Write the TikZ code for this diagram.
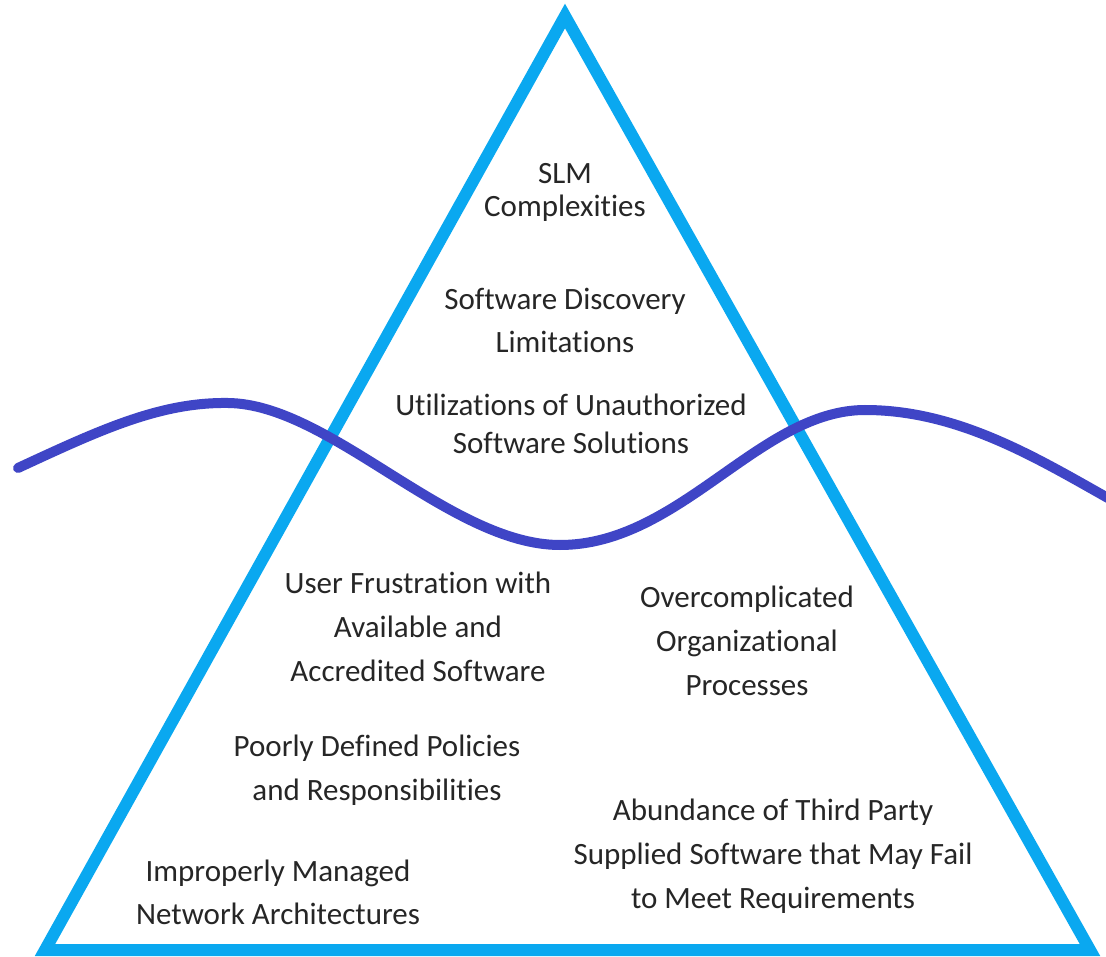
\documentclass[tikz,border=0pt]{standalone}
\usepackage{fontspec}
\setmainfont{Carlito}[Ligatures=NoCommon]
\definecolor{triblue}{RGB}{10,168,240}
\definecolor{wave}{RGB}{63,69,198}
\definecolor{txt}{RGB}{38,38,38}
\begin{document}
\begin{tikzpicture}[x=1pt,y=-1pt,
  tri/.style={draw=triblue,line width=12pt,line join=miter},
  wavy/.style={draw=wave,line width=10pt,line cap=round},
  lbl/.style={align=center,text=txt,inner sep=0pt,font=\fontsize{31}{44}\selectfont}]
\useasboundingbox[fill=white] (0,0) rectangle (1106,957);
\draw[tri] (565,16) -- (45,950) -- (1090,950) -- cycle;
\draw[wavy] (18,468) .. controls (100,430) and (160,402) .. (228,403)
  .. controls (330,404) and (450,545) .. (560,545)
  .. controls (680,545) and (760,410) .. (865,410)
  .. controls (960,410) and (1040,460) .. (1115,502);
\node[lbl,font=\fontsize{31}{33}\selectfont] (slm) at (565,192) {SLM\\Complexities};
\node[lbl,font=\fontsize{31}{43}\selectfont] (disc) at (565,320) {Software Discovery\\Limitations};
\node[lbl,font=\fontsize{31}{38}\selectfont] (unauth) at (571,424) {Utilizations of Unauthorized\\Software Solutions};
\node[lbl] (user) at (418,627) {User Frustration with\\Available and\\Accredited Software};
\node[lbl] (over) at (747,641) {Overcomplicated\\Organizational\\Processes};
\node[lbl] (poor) at (377,770) {Poorly Defined Policies\\and Responsibilities};
\node[lbl] (abund) at (773,856) {Abundance of Third Party\\Supplied Software that May Fail\\to Meet Requirements};
\node[lbl,font=\fontsize{31}{43}\selectfont] (impr) at (278,892) {Improperly Managed\\Network Architectures};
\end{tikzpicture}
\end{document}
